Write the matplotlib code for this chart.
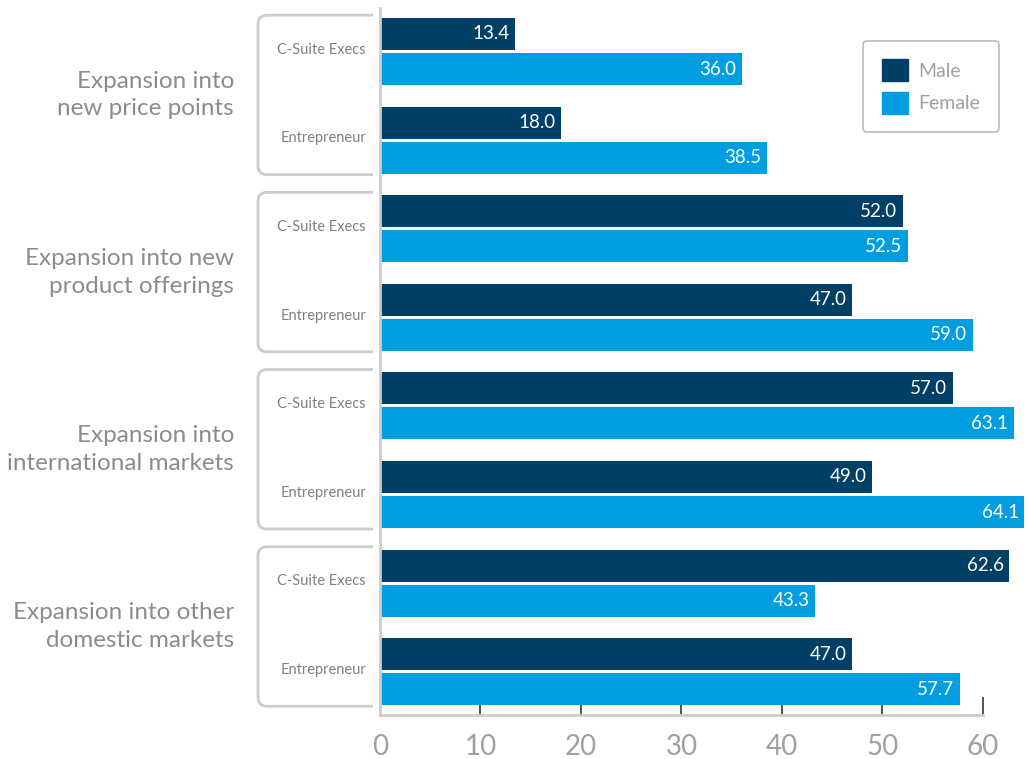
import numpy as np
import matplotlib.pyplot as plt
from matplotlib.path import Path
from matplotlib.patches import PathPatch, Patch

plt.rcParams['font.family'] = ['Lato', 'DejaVu Sans']

groups = ["Expansion into\nnew price points",
          "Expansion into new\nproduct offerings",
          "Expansion into\ninternational markets",
          "Expansion into other\ndomestic markets"]
segments = ["C-Suite Execs", "Entrepreneur"]
male = [13.4, 18.0, 52.0, 47.0, 57.0, 49.0, 62.6, 47.0]
female = [36.0, 38.5, 52.5, 59.0, 63.1, 64.1, 43.3, 57.7]
xticks = [0, 10, 20, 30, 40, 50, 60]

MALE_C = "#003f66"
FEMALE_C = "#009ee0"
GREY_TXT = "#8c8c8c"
GREY_LINE = "#cccccc"

W, H = 1027, 759
fig = plt.figure(figsize=(W / 100, H / 100), dpi=100)
ax = fig.add_axes([380 / W, 44 / H, 647 / W, 707 / H])

pos = np.arange(len(male))
off, bh = 0.198, 0.361
ax.barh(pos - off, male, height=bh, color=MALE_C)
ax.barh(pos + off, female, height=bh, color=FEMALE_C)

for p, m, f in zip(pos, male, female):
    ax.text(m - 0.55, p - off, f"{m:.1f}", color="white", ha="right",
            va="center", fontsize=13.5)
    ax.text(f - 0.55, p + off, f"{f:.1f}", color="white", ha="right",
            va="center", fontsize=13.5)

ax.set_xlim(0, 64.38)
ax.set_ylim(7.489, -0.491)
ax.set_yticks([])
ax.set_xticks(xticks)
ax.tick_params(axis="x", direction="in", length=7, width=1.2, color="#333333",
               labelsize=20, labelcolor="#a0a0a0", pad=14)
ax.xaxis.get_major_ticks()[-1].tick1line.set_markersize(13)
ax.xaxis.get_major_ticks()[0].tick1line.set_visible(False)

for s in ["top", "right"]:
    ax.spines[s].set_visible(False)
ax.spines["left"].set_color(GREY_LINE)
ax.spines["left"].set_linewidth(2)
ax.spines["bottom"].set_color(GREY_LINE)
ax.spines["bottom"].set_linewidth(2)
ax.spines["bottom"].set_bounds(0, 60)

# segment labels and bracket boxes
to_fig = fig.transFigure.inverted()
for i, p in enumerate(pos):
    ax.text(-1.4, p - 0.02, segments[i % 2], ha="right", va="center",
            fontsize=10.5, color="#808080")

r = 9
xl, xr = 258, 373
for g, name in enumerate(groups):
    top = ax.transData.transform((0, 2 * g - 0.41))[1]
    bot = ax.transData.transform((0, 2 * g + 1.39))[1]
    verts = [(xr, top), (xl + r, top), (xl, top), (xl, top - r),
             (xl, bot + r), (xl, bot), (xl + r, bot), (xr, bot)]
    codes = [Path.MOVETO, Path.LINETO, Path.CURVE3, Path.CURVE3,
             Path.LINETO, Path.CURVE3, Path.CURVE3, Path.LINETO]
    fig.add_artist(PathPatch(Path(verts, codes), fill=False, edgecolor=GREY_LINE,
                             lw=2, transform=None))
    yc = to_fig.transform((0, (top + bot) / 2))[1]
    fig.text(234 / W, yc, name, ha="right", va="center", fontsize=17.5,
             color=GREY_TXT, linespacing=1.4)

handles = [Patch(color=MALE_C), Patch(color=FEMALE_C)]
leg = fig.legend(handles, ["Male", "Female"], loc="upper right",
                 bbox_to_anchor=(999 / W, 1 - 41 / H), fontsize=14,
                 labelcolor="#a0a0a0", handlelength=1.35, handleheight=1.35,
                 handletextpad=0.55, borderpad=0.95, labelspacing=0.55,
                 borderaxespad=0, frameon=True, fancybox=True)
leg.get_frame().set_edgecolor("#aaaaaa")
leg.get_frame().set_linewidth(1.2)

fig.savefig("out.png", dpi=100)
